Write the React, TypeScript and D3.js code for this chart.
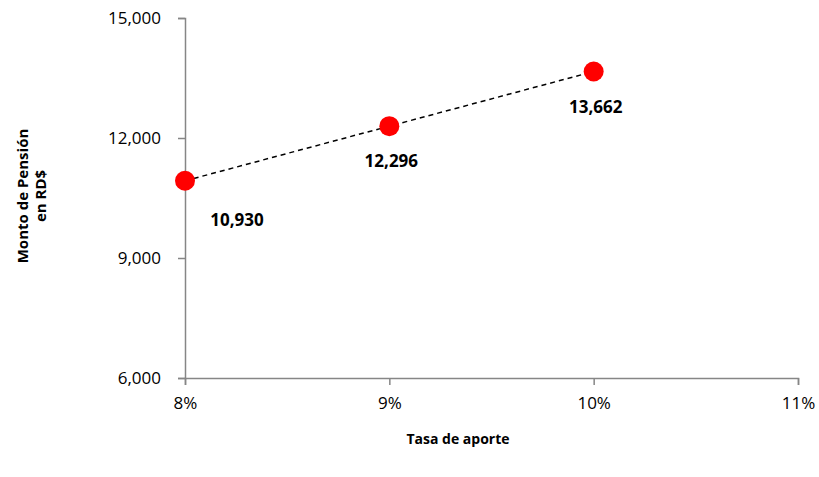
import React, { useEffect, useRef } from "react";
import * as d3 from "d3";

const rates = [0.08, 0.09, 0.1];
const pensions = [10930, 12296, 13662];
const xTicks = [0.08, 0.09, 0.1, 0.11];
const yTicks = [6000, 9000, 12000, 15000];

const App = () => {
  const svgRef = useRef<SVGSVGElement>(null);

  useEffect(() => {
    const width = 819;
    const height = 477;
    const font = "'Open Sans', sans-serif";
    const svg = d3.select(svgRef.current);
    svg.selectAll("*").remove();
    svg.attr("viewBox", [0, 0, width, height]).style("font-family", font);

    const x = d3.scaleLinear().domain([0.08, 0.11]).range([185, 798]);
    const y = d3.scaleLinear().domain([6000, 15000]).range([378, 18]);
    const axisColor = "#868686";

    // Y axis
    const gy = svg
      .append("g")
      .attr("transform", `translate(${x(0.08)},0)`)
      .call(
        d3
          .axisLeft(y)
          .tickValues(yTicks)
          .tickSize(7)
          .tickPadding(17)
          .tickFormat((d) => d3.format(",")(d as number))
      );
    gy.attr("font-family", null);
    gy.select(".domain").attr("stroke", axisColor).attr("stroke-width", 1.5);
    gy.selectAll(".tick line").attr("stroke", axisColor).attr("stroke-width", 1.5);
    gy.selectAll("text").attr("fill", "#000").style("font-family", font).style("font-size", "17px");

    // X axis
    const gx = svg
      .append("g")
      .attr("transform", `translate(0,${y(6000)})`)
      .call(
        d3
          .axisBottom(x)
          .tickValues(xTicks)
          .tickSize(7)
          .tickPadding(12)
          .tickFormat((d) => d3.format(".0%")(d as number))
      );
    gx.attr("font-family", null);
    gx.select(".domain").attr("stroke", axisColor).attr("stroke-width", 1.5);
    gx.selectAll(".tick line").attr("stroke", axisColor).attr("stroke-width", 1.5);
    gx.selectAll("text").attr("fill", "#000").style("font-family", font).style("font-size", "17px");

    const pts = rates.map((r, i) => ({ r, v: pensions[i] }));

    // dashed line
    svg
      .append("path")
      .datum(pts)
      .attr("fill", "none")
      .attr("stroke", "#000")
      .attr("stroke-width", 1.5)
      .attr("stroke-dasharray", "5,4")
      .attr(
        "d",
        d3
          .line<{ r: number; v: number }>()
          .x((d) => x(d.r))
          .y((d) => y(d.v))
      );

    // markers
    svg
      .selectAll("circle.pt")
      .data(pts)
      .join("circle")
      .attr("class", "pt")
      .attr("cx", (d) => x(d.r))
      .attr("cy", (d) => y(d.v))
      .attr("r", 10)
      .attr("fill", "#ff0000");

    // value labels (first one pushed right, off the axis)
    svg
      .selectAll("text.lbl")
      .data(pts)
      .join("text")
      .attr("class", "lbl")
      .attr("x", (d, i) => x(d.r) + (i === 0 ? 52 : 2))
      .attr("y", (d, i) => y(d.v) + (i === 0 ? 45 : 41))
      .attr("text-anchor", "middle")
      .style("font-size", "17px")
      .style("font-weight", "bold")
      .text((d) => d3.format(",")(d.v));

    // axis titles
    svg
      .append("text")
      .attr("x", 458)
      .attr("y", 444)
      .attr("text-anchor", "middle")
      .style("font-size", "14px")
      .style("font-weight", "bold")
      .text("Tasa de aporte");

    const yt = svg
      .append("text")
      .attr("transform", "translate(28,196) rotate(-90)")
      .attr("text-anchor", "middle")
      .style("font-size", "15px")
      .style("font-weight", "bold");
    yt.append("tspan").attr("x", 0).attr("y", 0).text("Monto de Pensión");
    yt.append("tspan").attr("x", 0).attr("y", 18).text("en RD$");
  }, []);

  return (
    <div style={{ position: "fixed", left: 0, top: 0, width: 819, height: 477, background: "#fff" }}>
      <svg ref={svgRef} width={819} height={477} style={{ display: "block" }} />
    </div>
  );
};

export default App;
